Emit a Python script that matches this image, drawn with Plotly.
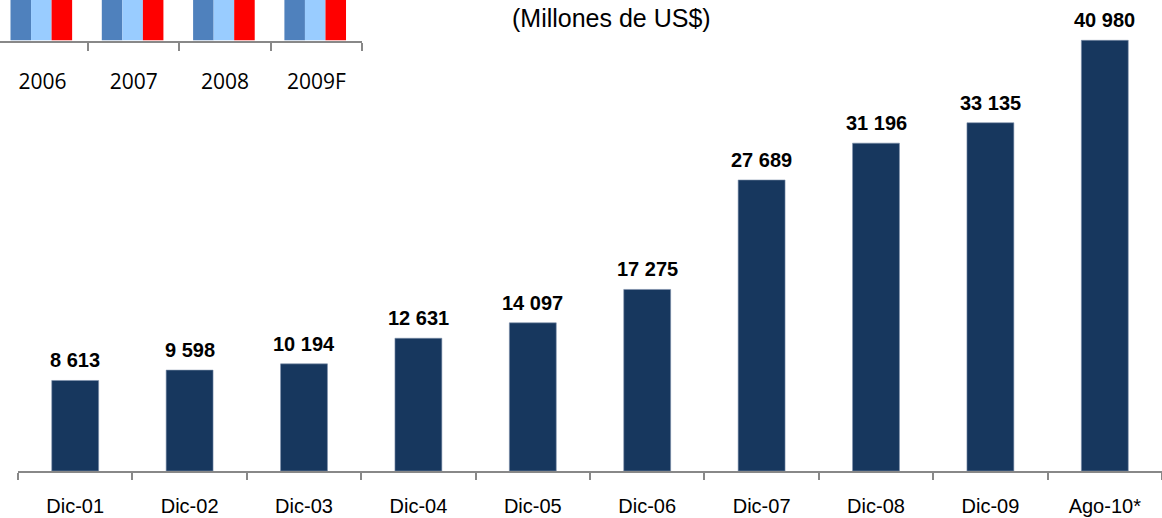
import plotly.graph_objects as go

# ---- data ----
categories = ["Dic-01", "Dic-02", "Dic-03", "Dic-04", "Dic-05",
              "Dic-06", "Dic-07", "Dic-08", "Dic-09", "Ago-10*"]
values = [8613, 9598, 10194, 12631, 14097, 17275, 27689, 31196, 33135, 40980]

inset_years = ["2006", "2007", "2008", "2009F"]
inset_serie_a = [5, 5, 5, 5]   # bars cut off at the top of the picture
inset_serie_b = [5, 5, 5, 5]
inset_serie_c = [5, 5, 5, 5]

title_text = "(Millones de US$)"

W, H = 1162, 518
PLOT_H = 471
FONT = "Liberation Sans, Arial, sans-serif"

fig = go.Figure()

fig.add_trace(go.Bar(
    x=categories, y=values, width=0.41,
    marker=dict(color="#17375E", line=dict(color="#7d91ab", width=0.6)),
    xaxis="x", yaxis="y", hoverinfo="x+y",
))

inset_colors = ["#4F81BD", "#99CCFF", "#FF0000"]
for i, (serie, col) in enumerate(zip([inset_serie_a, inset_serie_b, inset_serie_c], inset_colors)):
    fig.add_trace(go.Bar(
        x=inset_years, y=serie, width=0.225, offset=-0.35 + i * 0.225,
        marker=dict(color=col, line=dict(width=0)),
        xaxis="x2", yaxis="y2",
    ))

annotations = []
for c, v in zip(categories, values):
    annotations.append(dict(
        x=c, y=v, xref="x", yref="y", text=f"{v:,}".replace(",", " "),
        showarrow=False, yanchor="middle", yshift=20,
        font=dict(family=FONT, size=20, color="#000000", weight="bold"),
    ))
annotations.append(dict(
    x=611 / W, y=(PLOT_H - 18) / PLOT_H, xref="paper", yref="paper",
    text=title_text, showarrow=False, xanchor="center", yanchor="middle",
    font=dict(family=FONT, size=25, color="#000000"),
))

fig.update_layout(
    width=W, height=H,
    margin=dict(l=0, r=0, t=0, b=H - PLOT_H, pad=0),
    paper_bgcolor="white", plot_bgcolor="rgba(0,0,0,0)",
    showlegend=False, barmode="group",
    annotations=annotations,
    xaxis=dict(
        domain=[18 / W, 1], range=[-0.5, 9.5], anchor="y",
        showline=True, linecolor="#888888", linewidth=2,
        ticks="outside", tickson="boundaries", ticklen=7, tickwidth=1.5, tickcolor="#888888",
        showgrid=False, zeroline=False, ticklabelstandoff=16,
        tickfont=dict(family=FONT, size=20, color="#000000"),
    ),
    yaxis=dict(domain=[0, 1], range=[0, 44814], visible=False, anchor="x"),
    xaxis2=dict(
        domain=[0, 362 / W], range=[-0.465, 3.5], anchor="y2",
        showline=True, linecolor="#888888", linewidth=2,
        ticks="outside", tickson="boundaries", ticklen=8, tickwidth=1.5, tickcolor="#888888",
        showgrid=False, zeroline=False, ticklabelstandoff=21,
        tickfont=dict(family="Open Sans, sans-serif", size=21, color="#000000"),
    ),
    yaxis2=dict(domain=[(PLOT_H - 40.5) / PLOT_H, 1], range=[0, 2], visible=False, anchor="x2"),
)

fig.write_html("out.html", config={"displayModeBar": False},
               post_script="document.body.style.margin='0';document.body.style.overflow='hidden';")
